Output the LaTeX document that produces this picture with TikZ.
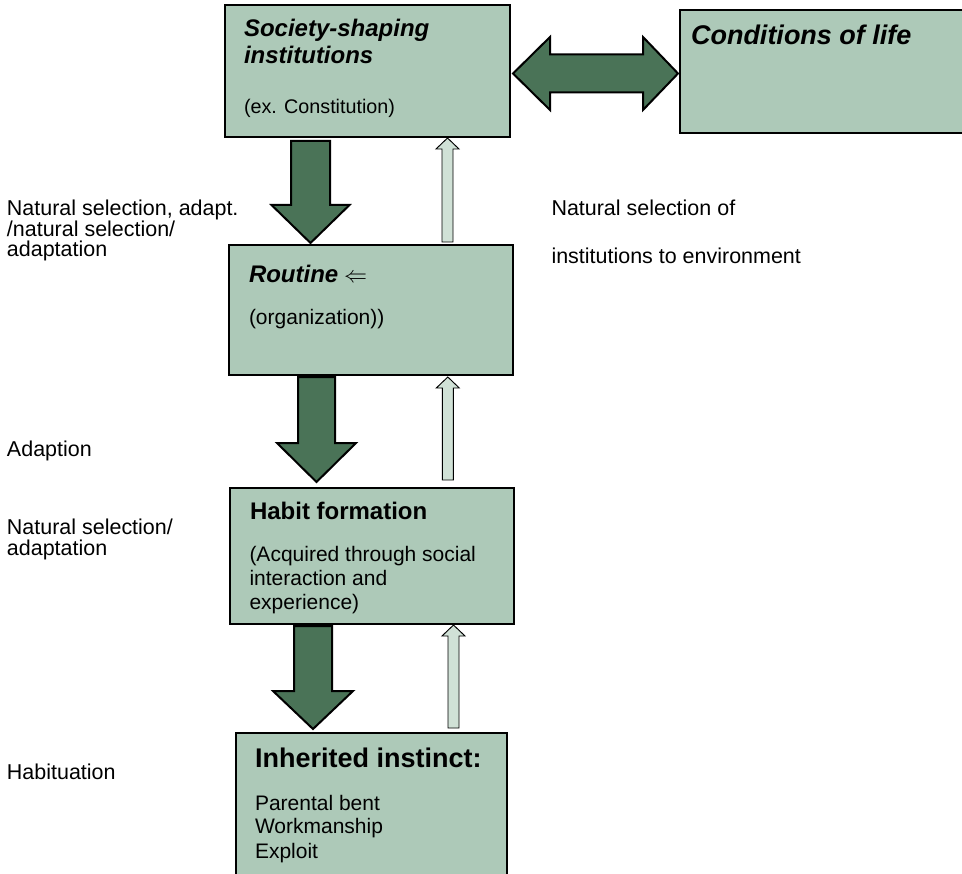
\documentclass[tikz,border=0pt]{standalone}
\usepackage{fontspec}
\setmainfont{Liberation Sans}
\usetikzlibrary{calc,fit}

\definecolor{boxfill}{RGB}{173,201,184}
\definecolor{darkfill}{RGB}{74,115,87}
\definecolor{lightfill}{RGB}{208,225,214}

% vertical block arrow: style, start, tip, shaft half width, head half width, head length (signed)
\newcommand\vblock[6]{%
  \draw[#1] ($(#2)+({-(#4)},0)$) -- ($(#3)+({-(#4)},{-(#6)})$)
    -- ($(#3)+({-(#5)},{-(#6)})$) -- (#3) -- ($(#3)+(#5,{-(#6)})$)
    -- ($(#3)+(#4,{-(#6)})$) -- ($(#2)+(#4,0)$) -- cycle;}

\newcommand\labelfont{\fontsize{15.75}{18}\selectfont}
\newcommand\sidefont{\fontsize{16.1}{18}\selectfont}
\newcommand\smallfont{\fontsize{14.8}{17}\selectfont}
\newcommand\headfont{\fontsize{18}{20}\selectfont}
\newcommand\bigfont{\fontsize{20.25}{22}\selectfont}

\begin{document}
\begin{tikzpicture}[x=0.75pt,y=-0.75pt,
  box/.style={draw=black,line width=0.9pt,fill=boxfill,inner sep=0pt,rectangle},
  txt/.style={anchor=base west,inner sep=0pt,outer sep=0pt,font=\labelfont},
  side/.style={txt,font=\sidefont},
  darkarrow/.style={draw=black,line width=1.5pt,fill=darkfill,line join=miter},
  lightarrow/.style={draw=black,line width=0.7pt,fill=lightfill,line join=miter}]
\useasboundingbox (0,0) rectangle (962,873);
\clip (0,0) rectangle (962,873);

% boxes
\node[box,fit={(225,5) (510,137)}] (soc) {};
\node[box,fit={(680,10) (975,133)}] (cond) {};
\node[box,fit={(229,245) (513,375)}] (rout) {};
\node[box,fit={(230,488) (514,624)}] (habit) {};
\node[box,fit={(236,733) (507,885)}] (inst) {};

% box texts
\node[txt,font=\headfont\bfseries\itshape] (soc1) at (244,36.7) {Society-shaping};
\node[txt,font=\headfont\bfseries\itshape] (soc2) at (244,63.3) {institutions};
\node[txt,font=\smallfont] (soc3) at (244,114) {(ex. Constitution)};

\node[txt,font=\bigfont\bfseries\itshape] (cond1) at (691,45) {Conditions of life};

\node[txt] (rout1) at (249,282.7) {{\headfont\bfseries\itshape Routine} {\headfont$\Leftarrow$}};
\node[txt] (rout2) at (249,324) {(organization))};

\node[txt,font=\headfont\bfseries] (hab1) at (250,519) {Habit formation};
\node[txt] (hab2) at (249.5,561) {(Acquired through social};
\node[txt] (hab3) at (249.5,585) {interaction and};
\node[txt] (hab4) at (249.5,609) {experience)};

\node[txt,font=\bigfont\bfseries] (inst1) at (255,767) {Inherited instinct:};
\node[txt] (inst2) at (255,810) {Parental bent};
\node[txt] (inst3) at (255,833) {Workmanship};
\node[txt] (inst4) at (255,858) {Exploit};

% side labels
\node[side] (l1) at (7,216) {Natural selection, adapt.};
\node[side] (l2) at (7,237) {/natural selection/};
\node[side] (l3) at (7,257) {adaptation};
\node[side] (l4) at (7,456) {Adaption};
\node[side] (l5) at (7,534) {Natural selection/};
\node[side] (l6) at (7,555) {adaptation};
\node[side] (l7) at (7,779) {Habituation};
\node[side] (r1) at (551.5,216) {Natural selection of};
\node[side] (r2) at (551.5,263) {institutions to environment};

% arrow end points
\coordinate (d1s) at (310.5,141);  \coordinate (d1e) at (310.5,243);
\coordinate (d2s) at (316.5,377);  \coordinate (d2e) at (316.5,482);
\coordinate (d3s) at (313,626);    \coordinate (d3e) at (313,729);
\coordinate (u1s) at (447.5,242);  \coordinate (u1e) at (447.5,138);
\coordinate (u2s) at (447.8,480);  \coordinate (u2e) at (447.8,377);
\coordinate (u3s) at (453.5,728);  \coordinate (u3e) at (453.5,625);
\coordinate (hl) at (513,73.5);    \coordinate (hr) at (678,73.5);

% downward block arrows
\vblock{darkarrow}{d1s}{d1e}{19.5}{39}{38}
\vblock{darkarrow}{d2s}{d2e}{18.5}{39.5}{39}
\vblock{darkarrow}{d3s}{d3e}{19}{40}{38}

% upward block arrows
\vblock{lightarrow}{u1s}{u1e}{5.5}{11.5}{-11}
\vblock{lightarrow}{u2s}{u2e}{5.5}{11.5}{-11}
\vblock{lightarrow}{u3s}{u3e}{5.5}{11.5}{-11}

% double-headed block arrow between the top boxes
\draw[darkarrow] (hl) -- ($(hl)+(37,-36.5)$) -- ($(hl)+(37,-19)$)
  -- ($(hr)+(-35,-19)$) -- ($(hr)+(-35,-36.5)$) -- (hr)
  -- ($(hr)+(-35,36.5)$) -- ($(hr)+(-35,19)$)
  -- ($(hl)+(37,19)$) -- ($(hl)+(37,36.5)$) -- cycle;
\end{tikzpicture}
\end{document}
